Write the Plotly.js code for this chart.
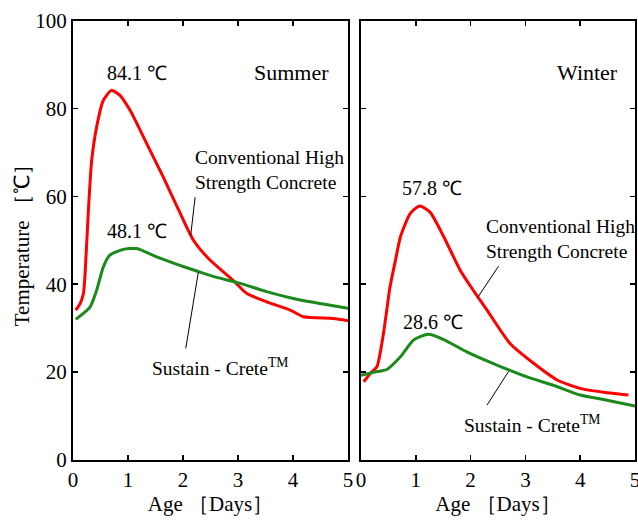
<!DOCTYPE html>
<html>
<head>
<meta charset="utf-8">
<script src="https://cdn.plot.ly/plotly-3.0.1.min.js"></script>
<style>html,body{margin:0;padding:0;background:#fff;}#chart{width:638px;height:520px;}</style>
</head>
<body>
<div id="chart"></div>
<script>
// Summer – Conventional High Strength Concrete
var summerConvDays = [0.05, 0.13, 0.19, 0.22, 0.28, 0.34, 0.43, 0.55, 0.70, 0.85, 1.04, 1.34, 1.64, 1.95, 2.19, 2.49, 2.91, 3.16, 3.52, 3.95, 4.19, 4.73, 5.0];
var summerConvTemp = [34.1, 35.6, 37.9, 42.4, 56.8, 68.2, 75.8, 81.8, 84.1, 83.0, 79.5, 72.0, 64.4, 56.1, 50.0, 45.5, 40.9, 37.9, 36.0, 34.1, 32.6, 32.2, 31.7];
// Summer – Sustain-Crete
var summerSustDays = [0.05, 0.31, 0.43, 0.55, 0.67, 0.91, 1.16, 1.52, 1.89, 2.25, 2.60, 3.04, 3.52, 4.13, 4.60, 5.0];
var summerSustTemp = [32.0, 34.8, 38.6, 43.9, 46.6, 47.9, 48.1, 46.2, 44.5, 43.0, 41.6, 40.2, 38.3, 36.4, 35.4, 34.5];
// Winter – Conventional High Strength Concrete
var winterConvDays = [0.05, 0.17, 0.29, 0.41, 0.53, 0.63, 0.72, 0.90, 1.07, 1.26, 1.51, 1.81, 2.05, 2.30, 2.72, 3.15, 3.58, 4.00, 4.49, 4.88];
var winterConvTemp = [17.8, 19.7, 21.2, 28.8, 39.4, 45.5, 50.8, 56.1, 57.8, 56.4, 50.8, 43.2, 38.6, 34.1, 26.5, 22.0, 18.2, 16.3, 15.3, 14.8];
// Winter – Sustain-Crete
var winterSustDays = [0.0, 0.25, 0.47, 0.72, 0.96, 1.23, 1.51, 1.93, 2.48, 3.03, 3.51, 4.00, 4.49, 5.0];
var winterSustTemp = [19.3, 20.0, 20.6, 23.5, 27.3, 28.6, 27.4, 24.6, 21.6, 18.9, 17.0, 14.8, 13.6, 12.3];

var xTicks = [0, 1, 2, 3, 4, 5];
var yTicks = [0, 20, 40, 60, 80, 100];

var RED = '#ff0000', GREEN = '#1b8a1b';
var FONT = 'Liberation Serif';

function line(x, y, color, xa, ya) {
  return {x: x, y: y, xaxis: xa, yaxis: ya, mode: 'lines', type: 'scatter',
    line: {color: color, width: 3, shape: 'spline', smoothing: 0.6}, hoverinfo: 'none', showlegend: false};
}
var data = [
  line(summerConvDays, summerConvTemp, RED, 'x', 'y'),
  line(summerSustDays, summerSustTemp, GREEN, 'x', 'y'),
  line(winterConvDays, winterConvTemp, RED, 'x2', 'y2'),
  line(winterSustDays, winterSustTemp, GREEN, 'x2', 'y2')
];

function xax(domain) {
  return {domain: domain, range: [0, 5], tickvals: xTicks, ticktext: xTicks.map(String),
    ticks: 'inside', ticklen: 5, tickwidth: 1.5, tickcolor: '#000', showgrid: false, zeroline: false,
    showline: true, linecolor: '#000', linewidth: 2, mirror: 'ticks', ticklabeloverflow: 'allow',
    tickfont: {family: FONT, size: 21, color: '#000'},
    title: {text: 'Age ［Days］', font: {family: FONT, size: 21, color: '#000'}, standoff: 0}};
}
function yax(domain, anchor, showLabels) {
  return {domain: domain, anchor: anchor, range: [0, 100], tickvals: yTicks, ticktext: yTicks.map(String),
    showticklabels: showLabels,
    ticks: 'inside', ticklen: 5, tickwidth: 1.5, tickcolor: '#000', showgrid: false, zeroline: false,
    showline: true, linecolor: '#000', linewidth: 2, mirror: 'ticks',
    tickfont: {family: FONT, size: 21, color: '#000'}};
}

var xa = xax([73/638, 348/638]); xa.anchor = 'y';
var xa2 = xax([361/638, 635/638]); xa2.anchor = 'y2';
var ya = yax([1 - 460/520, 1 - 20.5/520], 'x', true);
ya.title = {text: 'Temperature ［℃］', font: {family: FONT, size: 21, color: '#000'}, standoff: 0};
var ya2 = yax([1 - 460/520, 1 - 20.5/520], 'x2', false);

function txt(xref, yref, x, y, text, xanchor, size) {
  return {xref: xref, yref: yref, x: x, y: y, text: text, showarrow: false,
    xanchor: xanchor || 'center', yanchor: 'middle', align: 'left',
    font: {family: FONT, size: size || 17, color: '#000'}};
}
var annotations = [
  txt('x', 'y', 3.98, 88.2, 'Summer', 'center', 22),
  txt('x', 'y', 1.17, 88, '84.1 ℃', 'center', 20),
  txt('x', 'y', 1.16, 52, '48.1 ℃', 'center', 20),
  txt('x', 'y', 2.18, 65.9, 'Conventional High<br>Strength Concrete', 'left', 19.5),
  txt('x', 'y', 1.40, 21.1, 'Sustain - Crete<sup>TM</sup>', 'left', 19.5),
  txt('x2', 'y2', 4.14, 88.2, 'Winter', 'center', 22),
  txt('x2', 'y2', 1.29, 61.9, '57.8 ℃', 'center', 20),
  txt('x2', 'y2', 1.32, 31.4, '28.6 ℃', 'center', 20),
  txt('x2', 'y2', 2.24, 50.3, 'Conventional High<br>Strength Concrete', 'left', 19.5),
  txt('x2', 'y2', 1.84, 8.2, 'Sustain - Crete<sup>TM</sup>', 'left', 19.5)
];
function seg(xref, yref, x0, y0, x1, y1) {
  return {type: 'line', xref: xref, yref: yref, x0: x0, y0: y0, x1: x1, y1: y1, line: {color: '#000', width: 1}};
}
var shapes = [
  seg('x', 'y', 2.22, 59.8, 2.14, 51.1),
  seg('x', 'y', 2.28, 42.8, 2.05, 25.4),
  seg('x2', 'y2', 2.51, 44.1, 2.13, 37.0),
  seg('x2', 'y2', 2.69, 20.1, 2.30, 12.5)
];

var layout = {
  width: 638, height: 520, margin: {l: 0, r: 0, t: 0, b: 0},
  paper_bgcolor: '#fff', plot_bgcolor: '#fff', showlegend: false,
  font: {family: FONT, color: '#000'},
  xaxis: xa, yaxis: ya, xaxis2: xa2, yaxis2: ya2,
  annotations: annotations, shapes: shapes
};
Plotly.newPlot('chart', data, layout, {displayModeBar: false, staticPlot: true});
</script>
</body>
</html>
